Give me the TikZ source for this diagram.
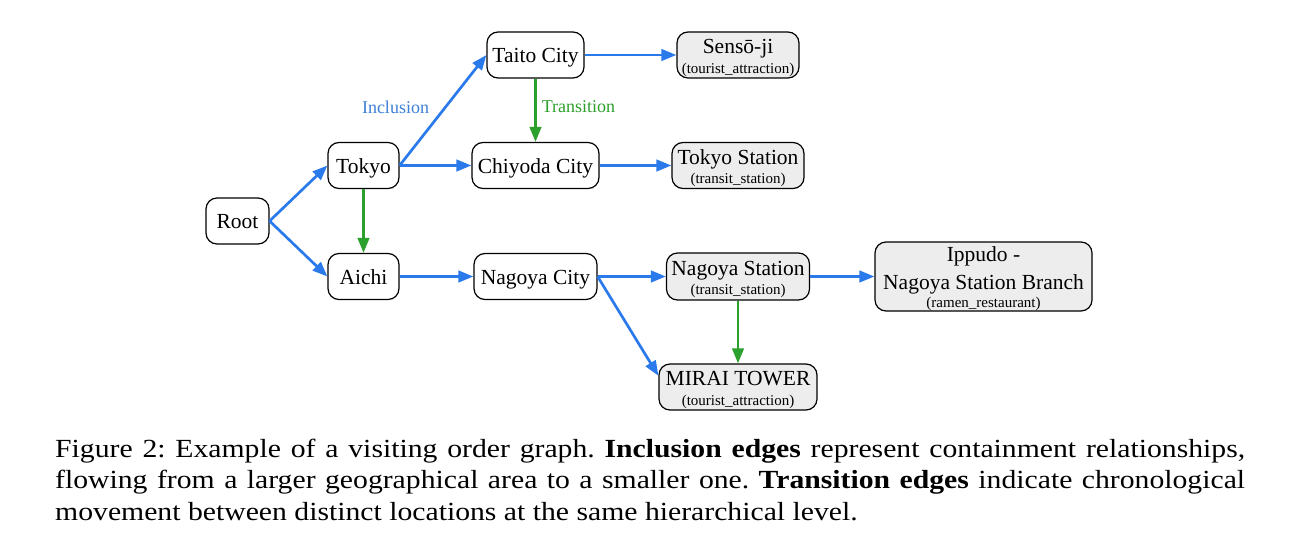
\documentclass[tikz,border=0pt]{standalone}
\usepackage{fontspec}
\usepackage{graphicx}
\setmainfont{Liberation Serif}
\usetikzlibrary{arrows.meta}
\definecolor{incl}{RGB}{43,122,235}
\definecolor{incltxt}{RGB}{60,128,215}
\definecolor{trans}{RGB}{44,160,44}
\definecolor{leaf}{RGB}{237,237,237}
\newcommand\subl[1]{{\fontsize{15}{15}\selectfont #1}}
\tikzset{
  place/.style={draw=black, line width=1.2pt, rounded corners=11pt, fill=white,
    minimum height=46pt, inner sep=0pt, align=center,
    font=\fontsize{21.5}{19.5}\selectfont},
  onel/.style={place, text height=17.5pt, text depth=2pt},
  leafbox/.style={place, fill=leaf},
  inc/.style={draw=incl, line width=2.7pt, -{Triangle[length=15pt,width=11.5pt]}},
  tra/.style={draw=trans, line width=2.7pt, -{Triangle[length=15pt,width=11.5pt]}},
  edgelbl/.style={font=\fontsize{18}{18}\selectfont, inner sep=1pt}
}
\begin{document}
\begin{tikzpicture}[x=1pt,y=-1pt]
\useasboundingbox (0,0) rectangle (1297,559);
% nodes
\node[onel, minimum width=63pt] (root) at (237.5,221) {Root};
\node[onel, minimum width=71pt] (tokyo) at (363.5,165.5) {Tokyo};
\node[onel, minimum width=71pt] (aichi) at (363.5,276.5) {Aichi};
\node[onel, minimum width=97pt] (taito) at (535.5,55) {Taito City};
\node[onel, minimum width=127pt] (chiyoda) at (535.5,165.5) {Chiyoda City};
\node[onel, minimum width=123pt] (nagoyacity) at (535.5,276.5) {Nagoya City};
\node[leafbox, minimum width=122pt] (sensoji) at (738,55) {\rule{0pt}{20.5pt}Sensō-ji\\\subl{(tourist\_attraction)}};
\node[leafbox, minimum width=132pt] (tokyost) at (738,165.5) {\rule{0pt}{20.5pt}Tokyo Station\\\subl{(transit\_station)}};
\node[leafbox, minimum width=143pt, minimum height=47pt] (nagoyast) at (738,276.5) {\rule{0pt}{20.5pt}Nagoya Station\\\subl{(transit\_station)}};
\node[leafbox, minimum width=217pt, minimum height=69pt] (ippudo) at (983.5,276.5) {\rule{0pt}{19.5pt}Ippudo -\\[8pt]Nagoya Station Branch\\[-1.5pt]\subl{(ramen\_restaurant)}};
\node[leafbox, minimum width=158pt] (mirai) at (738,387) {\rule{0pt}{20.5pt}MIRAI TOWER\\\subl{(tourist\_attraction)}};
% edges
\draw[inc] (root.east) -- (tokyo.west);
\draw[inc] (root.east) -- (aichi.west);
\draw[inc] (tokyo.east) -- (taito.west);
\draw[inc] (tokyo.east) -- (chiyoda.west);
\draw[tra] (tokyo.south) -- (aichi.north);
\draw[inc] (taito.east) -- (sensoji.west);
\draw[tra] (taito.south) -- (chiyoda.north);
\draw[inc] (chiyoda.east) -- (tokyost.west);
\draw[inc] (aichi.east) -- (nagoyacity.west);
\draw[inc] (nagoyacity.east) -- (nagoyast.west);
\draw[inc] (nagoyacity.east) -- (mirai.172);
\draw[inc] (nagoyast.east) -- (ippudo.west);
\draw[tra] (nagoyast.south) -- (mirai.north);
% edge labels
\node[edgelbl, text=incltxt] (lincl) at (395.5,107) {Inclusion};
\node[edgelbl, text=trans] (ltrans) at (578.5,107) {Transition};
% caption
\node[anchor=base west, inner sep=0pt] (cap) at (55,457) {\scalebox{1}[0.88]{\parbox[t]{1190pt}{\fontsize{29.7}{35.8}\selectfont\frenchspacing
Figure 2: Example of a visiting order graph. \textbf{Inclusion edges} represent containment relationships,\linebreak
flowing from a larger geographical area to a smaller one. \textbf{Transition edges} indicate chronological\linebreak
movement between distinct locations at the same hierarchical level.}}};
\end{tikzpicture}
\end{document}
